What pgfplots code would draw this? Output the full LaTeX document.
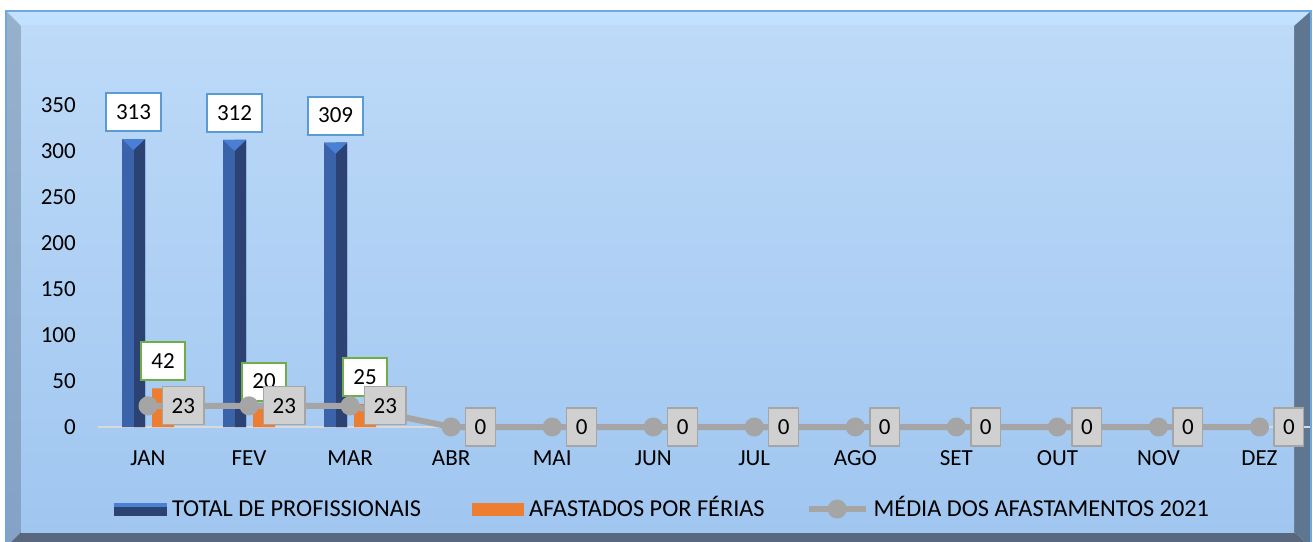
\documentclass[border=0pt]{standalone}
\usepackage{pgfplots}
\pgfplotsset{compat=1.18}
\usepackage{fontspec}
\setmainfont{Carlito}
\newcommand{\lblfont}{\fontsize{23}{27}\selectfont}
\newcommand{\legfont}{\fontsize{24.3}{28}\selectfont}
\definecolor{barblue}{HTML}{3B63A9}
\definecolor{bardark}{HTML}{2B4273}
\definecolor{bartop}{HTML}{4A7FD6}
\definecolor{orng}{HTML}{ED7D31}
\definecolor{lgray}{HTML}{A5A5A5}
\definecolor{lblfill}{HTML}{D0D0D0}
\definecolor{bordblue}{HTML}{5B9BD5}
\definecolor{bordgreen}{HTML}{70AD47}
\definecolor{bgtop}{HTML}{BDDAF8}
\definecolor{bgbot}{HTML}{A0C6F0}
\definecolor{bevtop}{HTML}{C2E0FF}
\definecolor{bevleftA}{HTML}{97B1CC}
\definecolor{bevleftB}{HTML}{84A2C6}
\definecolor{bevright}{HTML}{5F7690}
\definecolor{bevbot}{HTML}{58697F}
\definecolor{frameblue}{HTML}{6FA8DC}
\definecolor{axgray}{HTML}{D9D9D9}
\pgfdeclareplotmark{bartri}{%
  \pgfpathmoveto{\pgfpoint{-26pt}{0pt}}%
  \pgfpathlineto{\pgfpoint{-3pt}{0pt}}%
  \pgfpathlineto{\pgfpoint{-14.5pt}{-11pt}}%
  \pgfpathclose\pgfusepathqfill}
\begin{document}
\begin{tikzpicture}[x=1pt,y=1pt]
\path[use as bounding box] (0,0) rectangle (1313,541);
\begin{scope}
\clip (0,0) rectangle (1313,541);
\fill[white] (0,0) rectangle (1313,541);
\fill[bevtop] (6,530) -- (1311,530) -- (1294,515) -- (21,515) -- cycle;
\shade[top color=bevleftA,bottom color=bevleftB] (6,530) -- (21,515) -- (21,9) -- (6,-6) -- cycle;
\fill[bevright] (1311,530) -- (1311,-6) -- (1294,9) -- (1294,515) -- cycle;
\fill[bevbot] (6,-6) -- (21,9) -- (1294,9) -- (1311,-6) -- cycle;
\shade[top color=bgtop,bottom color=bgbot] (21,9) rectangle (1294,515);
\draw[frameblue, line width=1.5pt] (6,-6) rectangle (1311,530);
\end{scope}
\begin{axis}[
  at={(97.5pt,114pt)}, anchor=south west,
  scale only axis, width=1212.5pt, height=322pt,
  xmin=-0.5, xmax=11.5, ymin=0, ymax=350,
  axis line style={draw=none},
  tick style={draw=none}, major tick length=0pt,
  ytick={0,50,...,350},
  xtick={0,...,11},
  xticklabels={JAN,FEV,MAR,ABR,MAI,JUN,JUL,AGO,SET,OUT,NOV,DEZ},
  xticklabel style={font=\lblfont, inner sep=0pt, anchor=base, yshift=-38pt},
  yticklabel style={font=\lblfont, inner sep=0pt, anchor=base east, xshift=-21.5pt, yshift=-7.2pt},
  /pgf/number format/assume math mode=true,
  clip=false,
  legend style={at={(0.4652,-0.2547)}, anchor=center, draw=none, fill=none,
    legend columns=3, font=\legfont, inner sep=0pt, outer sep=0pt,
    nodes={inner sep=0pt, text height=15pt, text depth=0pt},
    /tikz/every odd column/.append style={column sep=5pt},
    /tikz/every even column/.append style={column sep=41pt}},
  legend cell align=left,
]
\draw[axgray, line width=2pt] (axis cs:-0.5,0) -- (axis cs:11.5,0);
\addplot[ybar, bar width=23pt, bar shift=-14.5pt, fill=barblue, draw=none,
  nodes near coords,
  every node near coord/.append style={font=\lblfont, text=black, fill=white, draw=bordblue,
    line width=2pt, inner xsep=10pt, inner ysep=0pt, minimum height=38pt,
    text height=14.5pt, text depth=0pt, yshift=7pt, xshift=-14.5pt},
  legend image code/.code={\fill[bartop] (0pt,2pt) rectangle (53pt,6.5pt); \fill[bardark] (0pt,-6.5pt) rectangle (53pt,2pt);}]
  coordinates {(0,313) (1,312) (2,309)};
\addlegendentry{TOTAL DE PROFISSIONAIS\hspace*{10pt}}
\addplot[ybar, bar width=11pt, bar shift=-8.5pt, fill=bardark, draw=none, forget plot]
  coordinates {(0,313) (1,312) (2,309)};
\addplot[only marks, forget plot, mark=bartri, mark options={fill=bartop, draw=none}]
  coordinates {(0,313) (1,312) (2,309)};
\addplot[ybar, bar width=22pt, bar shift=15pt, fill=orng, draw=none,
  nodes near coords,
  every node near coord/.append style={font=\lblfont, text=black, fill=white, draw=bordgreen,
    line width=2pt, inner xsep=10pt, inner ysep=0pt, minimum height=38pt,
    text height=14.5pt, text depth=0pt, yshift=7pt, xshift=15pt},
  legend image code/.code={\fill[orng] (0pt,-6.5pt) rectangle (52pt,6.5pt);}]
  coordinates {(0,42) (1,20) (2,25)};
\addlegendentry{AFASTADOS POR FÉRIAS}
\addplot[lgray, line width=6pt, line join=round, mark=*, mark size=6.5pt,
  mark options={fill=lgray, draw=none},
  nodes near coords,
  every node near coord/.append style={anchor=west, xshift=14pt, font=\lblfont, text=black,
    fill=lblfill, draw=lgray, line width=1.2pt, inner xsep=9pt, inner ysep=0pt,
    minimum height=38pt, text height=14.5pt, text depth=0pt},
  legend image code/.code={\draw[lgray, line width=6pt] (0pt,0pt) -- (57pt,0pt); \fill[lgray] (28.5pt,0pt) circle (6.5pt);}]
  coordinates {(0,23) (1,23) (2,23) (3,0) (4,0) (5,0) (6,0) (7,0) (8,0) (9,0) (10,0) (11,0)};
\addlegendentry{MÉDIA DOS AFASTAMENTOS 2021}
\end{axis}
\end{tikzpicture}
\end{document}
